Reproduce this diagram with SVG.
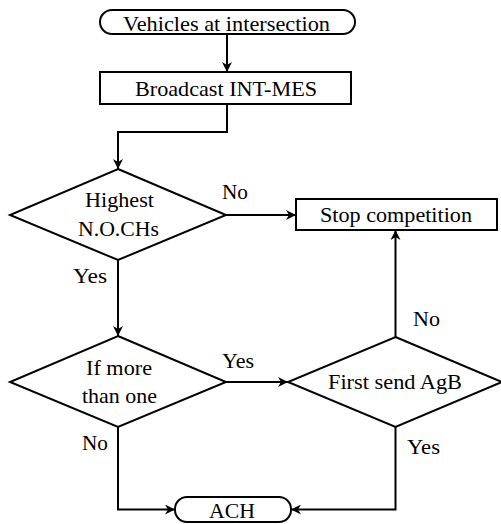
<svg xmlns="http://www.w3.org/2000/svg" width="501" height="524" viewBox="0 0 501 524">
<style>
.s{fill:#fff;stroke:#000;stroke-width:2}
.t{font-family:'Liberation Serif','DejaVu Serif','Noto Serif',serif;font-size:22px;fill:#000}
.c{text-anchor:middle}
.l{fill:none;stroke:#000;stroke-width:2}
</style>
<defs>
<marker id="a" viewBox="0 0 10 10" refX="10" refY="5" markerWidth="10" markerHeight="10" markerUnits="userSpaceOnUse" orient="auto">
<path d="M0,0 L10,5 L0,10 L3,5 Z" fill="#000"/>
</marker>
</defs>
<g id="connectors">
<path class="l" d="M227,34 V72" marker-end="url(#a)"/>
<path class="l" d="M227,104 V132 H118 V169" marker-end="url(#a)"/>
<path class="l" d="M226,215 H296" marker-end="url(#a)"/>
<path class="l" d="M118,260 V336" marker-end="url(#a)"/>
<path class="l" d="M226,382 H288" marker-end="url(#a)"/>
<path class="l" d="M395.5,337 V230" marker-end="url(#a)"/>
<path class="l" d="M118,427 V509.5 H175" marker-end="url(#a)"/>
<path class="l" d="M395.5,427 V509.5 H291" marker-end="url(#a)"/>
<text class="t" x="222" y="199" textLength="26" lengthAdjust="spacingAndGlyphs">No</text>
<text class="t" x="73" y="283" textLength="34" lengthAdjust="spacingAndGlyphs">Yes</text>
<text class="t" x="222" y="368" textLength="32" lengthAdjust="spacingAndGlyphs">Yes</text>
<text class="t" x="82" y="450" textLength="26" lengthAdjust="spacingAndGlyphs">No</text>
<text class="t" x="413" y="326" textLength="27" lengthAdjust="spacingAndGlyphs">No</text>
<text class="t" x="407" y="454" textLength="33" lengthAdjust="spacingAndGlyphs">Yes</text>
</g>
<g id="start">
<rect class="s" x="100" y="10" width="255" height="24" rx="12"/>
<text class="t c" x="226.5" y="31" textLength="207" lengthAdjust="spacingAndGlyphs">Vehicles at intersection</text>
</g>
<g id="broadcast">
<rect class="s" x="100" y="72" width="251" height="32"/>
<text class="t c" x="226" y="96" textLength="182" lengthAdjust="spacingAndGlyphs">Broadcast INT-MES</text>
</g>
<g id="highest">
<polygon class="s" points="118,169 226,215 118,260 10,215"/>
<text class="t c" x="119.5" y="207" textLength="69" lengthAdjust="spacingAndGlyphs">Highest</text>
<text class="t c" x="118.5" y="236" textLength="81" lengthAdjust="spacingAndGlyphs">N.O.CHs</text>
</g>
<g id="stop">
<rect class="s" x="296" y="199" width="201" height="31"/>
<text class="t c" x="396" y="222" textLength="152" lengthAdjust="spacingAndGlyphs">Stop competition</text>
</g>
<g id="more">
<polygon class="s" points="118,336 226,382 118,427 10,382"/>
<text class="t c" x="119" y="375" textLength="66" lengthAdjust="spacingAndGlyphs">If more</text>
<text class="t c" x="119.5" y="403" textLength="75" lengthAdjust="spacingAndGlyphs">than one</text>
</g>
<g id="first">
<polygon class="s" points="395.5,337 502,382 395.5,427 288,382"/>
<text class="t c" x="395" y="389" textLength="134" lengthAdjust="spacingAndGlyphs">First send AgB</text>
</g>
<g id="ach">
<rect class="s" x="175" y="497" width="116" height="25" rx="12"/>
<text class="t c" x="232" y="518" textLength="46" lengthAdjust="spacingAndGlyphs">ACH</text>
</g>
</svg>
